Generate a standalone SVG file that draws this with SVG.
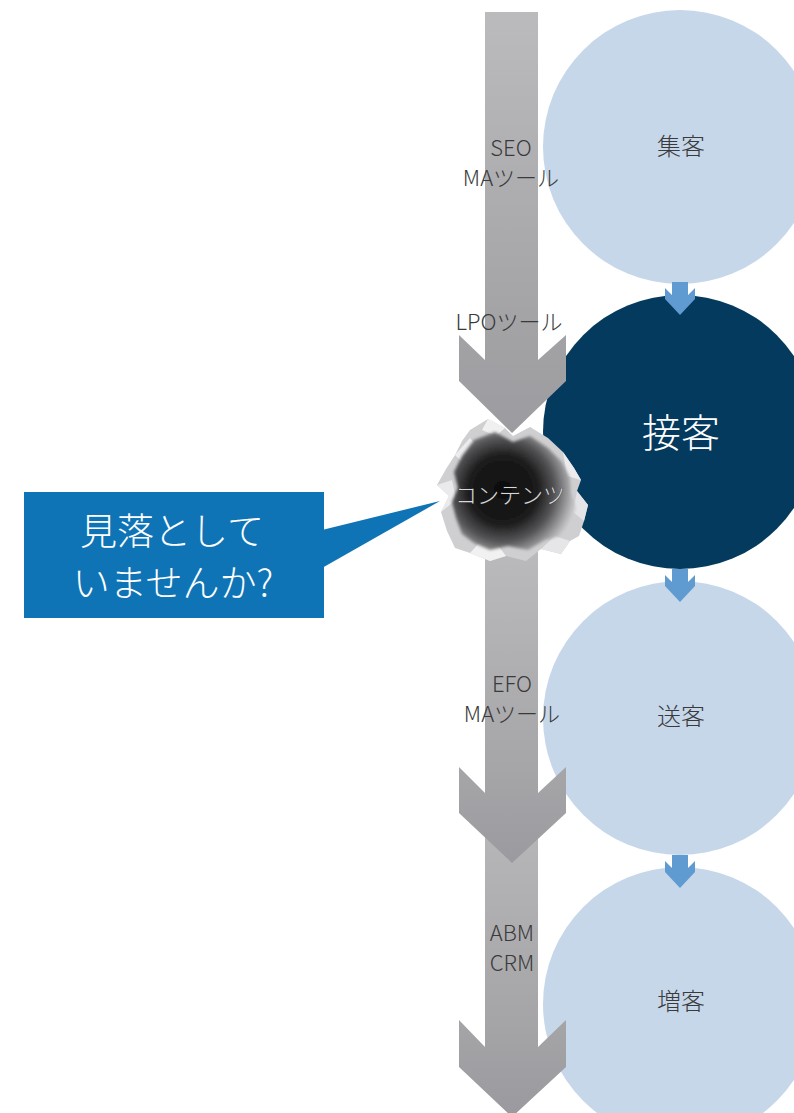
<svg xmlns="http://www.w3.org/2000/svg" width="794" height="1113" viewBox="0 0 794 1113">
  <defs>
    <style>
      .stage-light { fill: #c6d7ea; }
      .stage-dark { fill: #043a5d; }
      .flow { fill: #5f9bd1; }
      .tool { font-family: "Noto Sans CJK JP", "Noto Sans", sans-serif; font-size: 22px; fill: #3a3a3a; text-anchor: middle; font-weight: 300; }
      .stage { font-family: "Noto Sans CJK JP", "Noto Sans", sans-serif; font-size: 24px; fill: #3a3a3a; text-anchor: middle; font-weight: 300; }
      .stage-main { font-family: "Noto Sans CJK JP", "Noto Sans", sans-serif; font-size: 39px; fill: #ffffff; text-anchor: middle; font-weight: 300; }
      .callout { font-family: "Noto Sans CJK JP", "Noto Sans", sans-serif; font-size: 37px; fill: #ffffff; text-anchor: middle; font-weight: 300; }
      .hole-label { font-family: "Noto Sans CJK JP", "Noto Sans", sans-serif; font-size: 22px; fill: #d8d8da; text-anchor: middle; font-weight: 300; }
    </style>
    <linearGradient id="g-arrow1" gradientUnits="userSpaceOnUse" x1="0" y1="12" x2="0" y2="433">
      <stop offset="0" stop-color="#bbbbbe"/>
      <stop offset="0.75" stop-color="#a3a3a6"/>
      <stop offset="1" stop-color="#9c9ca0"/>
    </linearGradient>
    <linearGradient id="g-arrow2" gradientUnits="userSpaceOnUse" x1="0" y1="540" x2="0" y2="863">
      <stop offset="0" stop-color="#bbbbbe"/>
      <stop offset="0.7" stop-color="#a6a6a9"/>
      <stop offset="1" stop-color="#9b9b9f"/>
    </linearGradient>
    <linearGradient id="g-arrow3" gradientUnits="userSpaceOnUse" x1="0" y1="800" x2="0" y2="1117">
      <stop offset="0" stop-color="#b9b9bc"/>
      <stop offset="0.7" stop-color="#a5a5a8"/>
      <stop offset="1" stop-color="#9a9a9e"/>
    </linearGradient>
    <radialGradient id="g-hole" gradientUnits="userSpaceOnUse" cx="503" cy="490" r="76">
      <stop offset="0" stop-color="#0e0e0e"/>
      <stop offset="0.45" stop-color="#1b1b1b"/>
      <stop offset="0.68" stop-color="#555557"/>
      <stop offset="0.88" stop-color="#a8a8aa"/>
      <stop offset="1" stop-color="#d8d8da"/>
    </radialGradient>
    <filter id="soft" x="-10%" y="-10%" width="120%" height="120%">
      <feGaussianBlur stdDeviation="1.5"/>
    </filter>
  </defs>

  <rect width="794" height="1113" fill="#ffffff"/>

  <!-- funnel stages -->
  <g id="stage-shukyaku"><circle class="stage-light" cx="680" cy="147" r="137"/></g>
  <g id="stage-sekkyaku"><circle class="stage-dark" cx="680" cy="432" r="137"/></g>
  <g id="stage-sokyaku"><circle class="stage-light" cx="680" cy="718" r="137"/></g>
  <g id="stage-zokyaku"><circle class="stage-light" cx="680" cy="1004" r="137"/></g>

  <!-- connectors between stages and tool arrows -->
  <g id="connectors">
    <path class="flow" d="M672,282 H688 V295 L695,288 V299 L680,315 L665,299 V288 L672,295 Z"/>
    <path class="flow" d="M672,569 H688 V582 L695,575 V586 L680,602 L665,586 V575 L672,582 Z"/>
    <path class="flow" d="M672,855 H688 V868 L695,861 V872 L680,888 L665,872 V861 L672,868 Z"/>

    <path fill="url(#g-arrow3)" d="M485,800 H538 V1047 L566,1020 V1067 L512,1117 L459,1067 V1020 L485,1047 Z"/>
    <path fill="url(#g-arrow2)" d="M485,540 H538 V793 L566,767 V813 L512,863 L459,813 V767 L485,793 Z"/>
    <path fill="url(#g-arrow1)" d="M485,12 H538 V360 L566,335 V381 L512,433 L459,381 V335 L485,360 Z"/>
  </g>

  <!-- callout -->
  <g id="callout">
    <rect x="24" y="492" width="300" height="126" fill="#0f74b5"/>
    <polygon points="322,530 440,501 322,568" fill="#0f74b5"/>
    <text class="callout" x="172" y="545">見落として</text>
    <text class="callout" x="173" y="597">いませんか?</text>
  </g>

  <!-- torn hole: contents -->
  <g id="contents-hole">
    <polygon fill="#cfcfd2" points="470,430 488,419 505,428 513,436 530,427 548,438 563,452 574,468 581,480 577,491 588,505 584,521 579,536 570,541 561,554 541,549 526,561 506,556 490,561 470,553 455,548 447,531 441,512 449,496 437,485 446,469 455,455 462,441"/>
    <polygon fill="#ededef" points="455,455 470,438 480,450 466,466"/>
    <polygon fill="#f0f0f1" points="488,419 505,428 496,436 482,430"/>
    <polygon fill="#ececee" points="563,452 574,468 581,480 567,476"/>
    <polygon fill="#e4e4e6" points="577,491 588,505 584,521 573,512"/>
    <polygon fill="#f1f1f2" points="470,553 490,561 506,556 497,544 480,542"/>
    <polygon fill="#e6e6e8" points="541,549 561,554 570,541 555,536"/>
    <polygon fill="#eaeaec" points="441,512 449,496 437,485 452,480 456,500"/>
    <polygon fill="url(#g-hole)" filter="url(#soft)" points="474,440 495,432 513,442 530,436 548,448 562,462 570,478 571,494 576,508 570,524 560,536 545,540 528,550 508,546 490,550 474,543 462,534 456,518 452,502 458,488 454,472 462,456"/>
    <text class="hole-label" x="510" y="503" stroke="#2a2a2a" stroke-width="0.6" paint-order="stroke">コンテンツ</text>
  </g>

  <!-- labels -->
  <g id="labels">
    <text class="tool" x="511" y="156">SEO</text>
    <text class="tool" x="511" y="186">MAツール</text>
    <text class="tool" x="509" y="330">LPOツール</text>
    <text class="tool" x="512" y="692">EFO</text>
    <text class="tool" x="512" y="722">MAツール</text>
    <text class="tool" x="512" y="941">ABM</text>
    <text class="tool" x="512" y="971">CRM</text>
    <text class="stage" x="681" y="155">集客</text>
    <text class="stage-main" x="681" y="447">接客</text>
    <text class="stage" x="681" y="725">送客</text>
    <text class="stage" x="681" y="1010">増客</text>
  </g>
</svg>
